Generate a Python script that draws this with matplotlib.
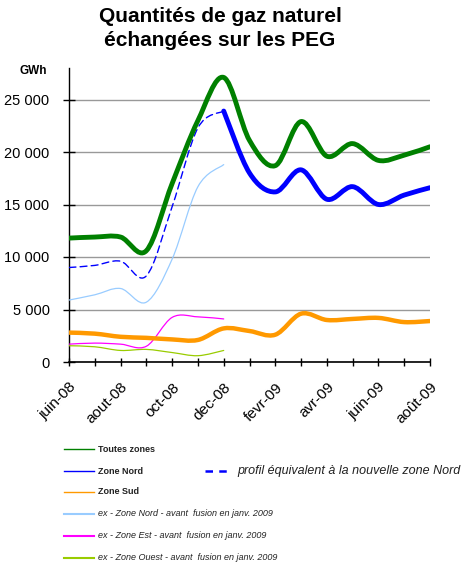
import matplotlib
matplotlib.use("Agg")
import matplotlib.pyplot as plt
from matplotlib.path import Path
from matplotlib.patches import PathPatch
from matplotlib.lines import Line2D

plt.rcParams['font.family'] = ['Liberation Sans', 'DejaVu Sans']

months = ["juin-08", "juil-08", "aout-08", "sept-08", "oct-08", "nov-08", "dec-08",
          "janv-09", "fevr-09", "mars-09", "avr-09", "mai-09", "juin-09", "juil-09", "août-09"]
tick_labels = ["juin-08", "aout-08", "oct-08", "dec-08", "fevr-09", "avr-09", "juin-09", "août-09"]

toutes_zones = [11800, 11900, 11900, 10600, 17000, 23000, 27100, 21100, 18700, 22900, 19600, 20800, 19200, 19700, 20500]
zone_nord = [None, None, None, None, None, None, 23900, 18000, 16200, 18300, 15500, 16700, 15000, 15900, 16600]
zone_sud = [2800, 2700, 2400, 2300, 2150, 2100, 3200, 2950, 2600, 4600, 4000, 4100, 4200, 3800, 3900]
profil_nord = [9000, 9200, 9600, 8200, 14800, 22300, 23900]
ex_nord = [5900, 6400, 7000, 5700, 9800, 16700, 18800]
ex_est = [1700, 1800, 1700, 1500, 4250, 4300, 4100]
ex_ouest = [1550, 1450, 1100, 1200, 900, 600, 1100]


def smooth_path(xs, ys):
    pts = [(x, y) for x, y in zip(xs, ys) if y is not None]
    n = len(pts)
    verts = [pts[0]]
    codes = [Path.MOVETO]
    for i in range(n - 1):
        p0 = pts[i - 1] if i > 0 else pts[i]
        p1 = pts[i]
        p2 = pts[i + 1]
        p3 = pts[i + 2] if i + 2 < n else pts[i + 1]
        c1 = (p1[0] + (p2[0] - p0[0]) / 6, p1[1] + (p2[1] - p0[1]) / 6)
        c2 = (p2[0] - (p3[0] - p1[0]) / 6, p2[1] - (p3[1] - p1[1]) / 6)
        verts += [c1, c2, p2]
        codes += [Path.CURVE4] * 3
    return Path(verts, codes)


fig = plt.figure(figsize=(4.61, 5.66), dpi=100)
ax = fig.add_axes([69 / 461, 1 - 362 / 566, (430 - 69) / 461, (362 - 68) / 566])

x = list(range(len(months)))


def draw(vals, color, lw, ls='-', z=3):
    p = smooth_path(x[:len(vals)], vals)
    ax.add_patch(PathPatch(p, fill=False, edgecolor=color, lw=lw, linestyle=ls,
                           capstyle='round', joinstyle='round', zorder=z))


draw(ex_ouest, '#99CC00', 0.9)
draw(ex_est, '#FF00FF', 0.9)
draw(ex_nord, '#99CCFF', 0.9)
draw(zone_sud, '#FF9900', 3.2)
draw(profil_nord, '#0000FF', 1.0, ls=(0, (5, 3)))
draw(zone_nord, '#0000FF', 3.5, z=4)
draw(toutes_zones, '#008000', 3.5, z=5)

ax.set_xlim(0, 14)
ax.set_ylim(0, 28000)
ax.set_yticks(range(0, 25001, 5000))
ax.set_yticklabels(["0", "5 000", "10 000", "15 000", "20 000", "25 000"], fontsize=10.5)
ax.yaxis.grid(True, color='#999999', lw=1)
ax.set_axisbelow(True)
ax.set_xticks(x, minor=False)
ax.set_xticklabels([m if m in tick_labels and (i % 2 == 0) else "" for i, m in enumerate(months)],
                   rotation=45, ha='right', rotation_mode='anchor', fontsize=11)
ax.tick_params(axis='x', length=6, width=1, direction='inout', pad=10)
ax.tick_params(axis='y', length=8, width=1, direction='inout', pad=10)
for s in ['top', 'right']:
    ax.spines[s].set_visible(False)
ax.spines['left'].set_linewidth(1)
ax.spines['bottom'].set_linewidth(1.2)

fig.text(220 / 461, 1 - 7 / 566, "Quantités de gaz naturel\néchangées sur les PEG",
         ha='center', va='top', fontsize=15, fontweight='bold', linespacing=1.32)
fig.text(33 / 461, 1 - 71.5 / 566, "GWh", ha='center', va='center', fontsize=8.5, fontweight='bold')

legend_items = [
    ("Toutes zones", '#008000', 449, 'bold', 'normal', 1.0),
    ("Zone Nord", '#0000FF', 471, 'bold', 'normal', 1.0),
    ("Zone Sud", '#FF9900', 492, 'bold', 'normal', 1.0),
    ("ex - Zone Nord - avant  fusion en janv. 2009", '#99CCFF', 514, 'normal', 'italic', 1.5),
    ("ex - Zone Est - avant  fusion en janv. 2009", '#FF00FF', 536, 'normal', 'italic', 1.5),
    ("ex - Zone Ouest - avant  fusion en janv. 2009", '#99CC00', 558, 'normal', 'italic', 1.5),
]
for label, col, yy, fw, fs, lw in legend_items:
    yf = 1 - yy / 566
    fig.add_artist(Line2D([64 / 461, 94 / 461], [yf, yf], color=col, lw=lw))
    fig.text(98 / 461, yf, label, ha='left', va='center', fontsize=6.5,
             fontweight=fw, fontstyle=fs, color='#222222')

yf = 1 - 471 / 566
fig.add_artist(Line2D([205 / 461, 231 / 461], [yf, yf], color='#0000FF', lw=1.8, linestyle=(0, (3, 2.5))))
fig.text(237 / 461, yf, "profil équivalent à la nouvelle zone Nord", ha='left', va='center',
         fontsize=9, fontstyle='italic', color='#222222')

fig.savefig("out.png", dpi=100)
